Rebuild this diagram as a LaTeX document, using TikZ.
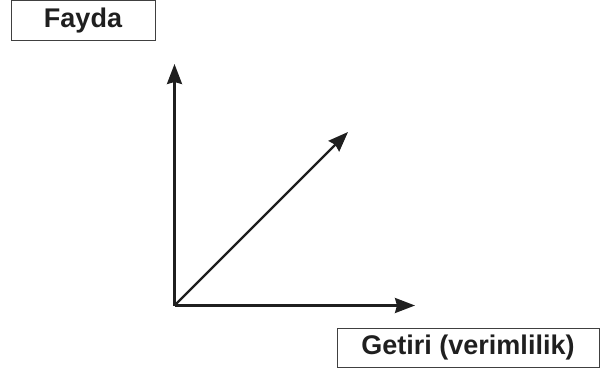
\documentclass[tikz,border=0pt]{standalone}
\usepackage{fontspec}
\setmainfont{Liberation Sans}
\usepackage{tikz}
\usetikzlibrary{positioning, arrows.meta}

\begin{document}
\begin{tikzpicture}[x=1pt, y=-1pt]
  \tikzstyle{labelbox}=[draw=black!75, line width=1pt, inner sep=0pt, font=\fontsize{27}{31}\selectfont\bfseries, text=black!88]
  \tikzstyle{axis}=[line width=2.4pt, draw=black!88, -{Stealth[length=20pt, width=15pt, inset=2pt]}]
  \useasboundingbox (0, 0) rectangle (600, 370);

  % labels
  \node (fayda) at (83, 20.5) [labelbox, minimum width=144pt, minimum height=40pt] {Fayda};
  \node (getiri) at (468, 347.5) [labelbox, minimum width=262pt, minimum height=39pt] {Getiri (verimlilik)};

  % axes
  \coordinate (origin) at (174.5, 305.5);
  \coordinate (ytip) at (174.5, 64);
  \coordinate (xtip) at (415, 305.5);
  \coordinate (dtip) at (348, 132);
  \draw[axis] (origin) -- (ytip);
  \draw[axis] (origin) -- (xtip);
  \draw[axis] (origin) -- (dtip);
\end{tikzpicture}
\end{document}
